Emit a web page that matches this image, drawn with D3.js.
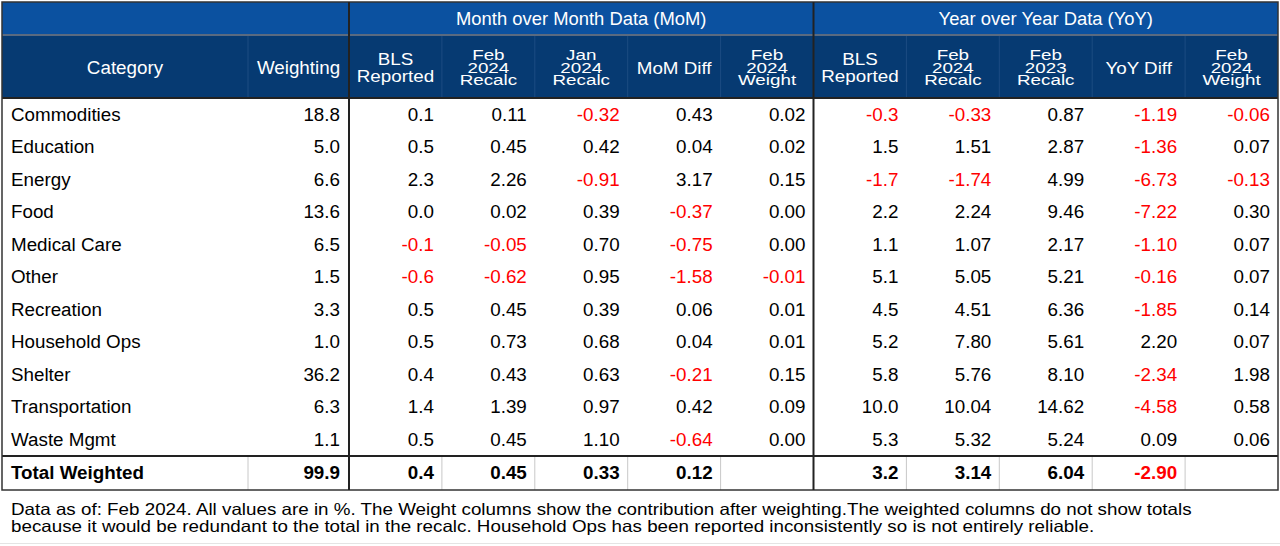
<!DOCTYPE html>
<html><head><meta charset="utf-8">
<script src="https://cdn.jsdelivr.net/npm/d3@7"></script>
<style>html,body{margin:0;padding:0;background:#fff;}svg{display:block;}</style>
</head><body>
<script>
const categories = ["Commodities","Education","Energy","Food","Medical Care","Other","Recreation","Household Ops","Shelter","Transportation","Waste Mgmt"];
const weighting = [18.8,5.0,6.6,13.6,6.5,1.5,3.3,1.0,36.2,6.3,1.1];
const momBLS = [0.1,0.5,2.3,0.0,-0.1,-0.6,0.5,0.5,0.4,1.4,0.5];
const momFeb24 = [0.11,0.45,2.26,0.02,-0.05,-0.62,0.45,0.73,0.43,1.39,0.45];
const momJan24 = [-0.32,0.42,-0.91,0.39,0.70,0.95,0.39,0.68,0.63,0.97,1.10];
const momDiff = [0.43,0.04,3.17,-0.37,-0.75,-1.58,0.06,0.04,-0.21,0.42,-0.64];
const momWeight = [0.02,0.02,0.15,0.00,0.00,-0.01,0.01,0.01,0.15,0.09,0.00];
const yoyBLS = [-0.3,1.5,-1.7,2.2,1.1,5.1,4.5,5.2,5.8,10.0,5.3];
const yoyFeb24 = [-0.33,1.51,-1.74,2.24,1.07,5.05,4.51,7.80,5.76,10.04,5.32];
const yoyFeb23 = [0.87,2.87,4.99,9.46,2.17,5.21,6.36,5.61,8.10,14.62,5.24];
const yoyDiff = [-1.19,-1.36,-6.73,-7.22,-1.10,-0.16,-1.85,2.20,-2.34,-4.58,0.09];
const yoyWeight = [-0.06,0.07,-0.13,0.30,0.07,0.07,0.14,0.07,1.98,0.58,0.06];
const totalLabel = "Total Weighted";
const totalWeighting = 99.9;
const totals = [0.4,0.45,0.33,0.12,null,3.2,3.14,6.04,-2.90,null];
const spanners = ["Month over Month Data (MoM)","Year over Year Data (YoY)"];
const headers = [["BLS","Reported"],["Feb","2024","Recalc"],["Jan","2024","Recalc"],["MoM Diff"],["Feb","2024","Weight"],
                 ["BLS","Reported"],["Feb","2024","Recalc"],["Feb","2023","Recalc"],["YoY Diff"],["Feb","2024","Weight"]];
const decimals = [1,2,2,2,2,1,2,2,2,2];
const footnote = ["Data as of: Feb 2024. All values are in %. The Weight columns show the contribution after weighting.The weighted columns do not show totals",
                  "because it would be redundant to the total in the recalc. Household Ops has been reported inconsistently so is not entirely reliable."];

const series = [momBLS,momFeb24,momJan24,momDiff,momWeight,yoyBLS,yoyFeb24,yoyFeb23,yoyDiff,yoyWeight];

const W=1280,H=546,FS=18.8;
const FONT='"Liberation Sans", Arial, Helvetica, sans-serif';
const svg=d3.select("body").append("svg").attr("width",W).attr("height",H).style("font-family",FONT);

const L=2,R=1278,T=2,spanB=35,headB=98,dataB=456,totB=490;
const catR=248, wR=349;
const x=d3.scaleBand().domain(d3.range(10)).range([wR,R]).padding(0);
const y=d3.scaleBand().domain(categories).range([headB,dataB]).padding(0);
const red="#FF0000", ink="#000";
const spanBg="#0B51A0", headBg="#063A72";

svg.append("rect").attr("x",L).attr("y",T).attr("width",R-L).attr("height",spanB-T).attr("fill",spanBg);
svg.append("rect").attr("x",L).attr("y",spanB).attr("width",R-L).attr("height",headB-spanB).attr("fill",headBg);

const hsep=[catR].concat(d3.range(1,10).filter(i=>i!==5).map(i=>x(i)));
svg.selectAll(".hsep").data(hsep).join("line").attr("x1",d=>d).attr("x2",d=>d).attr("y1",spanB+1).attr("y2",headB)
  .attr("stroke","#1C4C82").attr("stroke-width",1);

function stext(cx,cy,t,sy,opts){
  const g=svg.append("g").attr("transform",`translate(${cx},${cy}) scale(1,${sy})`);
  const tx=g.append("text").attr("x",0).attr("y",0).attr("dy","0.35em").attr("font-size",opts.fs||FS)
    .attr("text-anchor",opts.anchor||"middle").attr("fill",opts.fill||"#fff").text(t);
  return tx;
}

const spanX=[(x(0)+x(4)+x.bandwidth())/2,(x(5)+x(9)+x.bandwidth())/2];
spanners.forEach((s,i)=>stext(spanX[i],19,s,0.95,{fs:18.4}));

stext((L+catR)/2,68,"Category",0.95,{});
stext((catR+wR)/2,68,"Weighting",0.95,{});
const lineYs={1:[68],2:[59,76],3:[55,67.5,80]};
const scaleYs={1:0.92,2:0.87,3:0.8};
headers.forEach((h,i)=>{
  const ys=lineYs[h.length];
  h.forEach((t,k)=>stext(x(i)+x.bandwidth()/2,ys[k],t,scaleYs[h.length],{}));
});

const rows=svg.selectAll(".row").data(categories).join("g").attr("transform",d=>`translate(0,${y(d)+y.bandwidth()/2}) scale(1,0.95)`);
rows.append("text").attr("x",11).attr("dy","0.35em").attr("font-size",FS).attr("fill",ink).text(d=>d);
rows.append("text").attr("x",wR-9).attr("dy","0.35em").attr("text-anchor","end").attr("font-size",FS).attr("fill",ink)
  .text((d,i)=>weighting[i].toFixed(1));
series.forEach((s,c)=>{
  rows.append("text").attr("x",x(c)+x.bandwidth()-8).attr("dy","0.35em").attr("text-anchor","end").attr("font-size",FS)
    .attr("fill",(d,i)=>s[i]<0?red:ink).text((d,i)=>s[i].toFixed(decimals[c]));
});

const ty=(dataB+totB)/2;
const tg=svg.append("g").attr("transform",`translate(0,${ty}) scale(1,0.95)`).attr("font-weight","bold").attr("font-size",FS);
tg.append("text").attr("x",11).attr("dy","0.35em").attr("fill",ink).text(totalLabel);
tg.append("text").attr("x",wR-9).attr("dy","0.35em").attr("text-anchor","end").attr("fill",ink).text(totalWeighting.toFixed(1));
tg.selectAll(".tv").data(totals).join("text").attr("x",(d,i)=>x(i)+x.bandwidth()-8).attr("dy","0.35em").attr("text-anchor","end")
  .attr("fill",d=>d<0?red:ink).text((d,i)=>d==null?"":d.toFixed(decimals[i]));
const tsep=[catR].concat(d3.range(1,10).filter(i=>i!==5).map(i=>x(i)));
svg.selectAll(".tsep").data(tsep).join("line").attr("x1",d=>d).attr("x2",d=>d).attr("y1",dataB+1).attr("y2",totB)
  .attr("stroke","#C8C8C8").attr("stroke-width",1);

svg.append("line").attr("x1",L).attr("x2",R).attr("y1",spanB).attr("y2",spanB).attr("stroke","#5A6A80").attr("stroke-width",2);
svg.append("line").attr("x1",L).attr("x2",R).attr("y1",headB).attr("y2",headB).attr("stroke","#222").attr("stroke-width",2);
svg.append("line").attr("x1",L).attr("x2",R).attr("y1",dataB).attr("y2",dataB).attr("stroke","#222").attr("stroke-width",2);
svg.append("rect").attr("x",L).attr("y",T).attr("width",R-L).attr("height",totB-T).attr("fill","none").attr("stroke","#333").attr("stroke-width",1.5);
[wR,x(5)].forEach(v=>{
  svg.append("line").attr("x1",v).attr("x2",v).attr("y1",T).attr("y2",totB).attr("stroke","#222").attr("stroke-width",2);
});

footnote.forEach((f,i)=>stext(11,509+i*17,f,0.9,{anchor:"start",fill:ink}));
svg.append("line").attr("x1",0).attr("x2",W).attr("y1",543.5).attr("y2",543.5).attr("stroke","#E4E4E4").attr("stroke-width",1);
</script>
</body></html>
